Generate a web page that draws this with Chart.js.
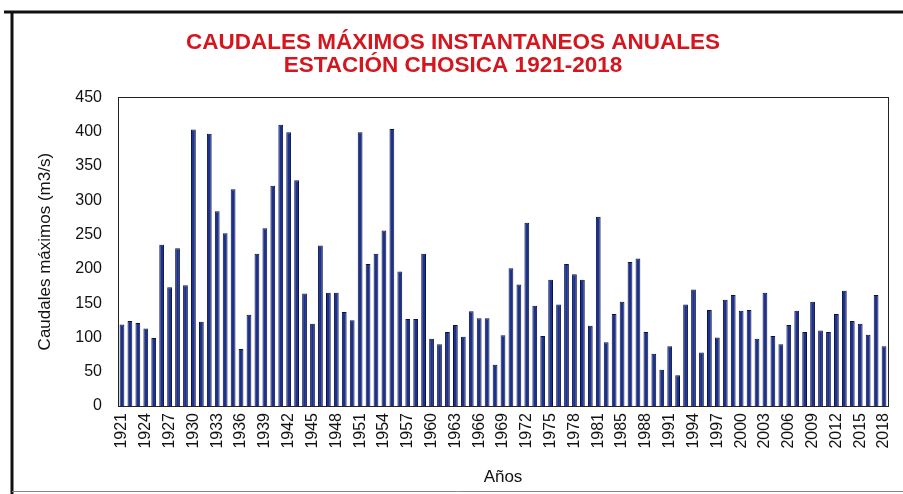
<!DOCTYPE html>
<html>
<head>
<meta charset="utf-8">
<script src="https://cdn.jsdelivr.net/npm/chart.js@4"></script>
<style>
    html, body { margin: 0; padding: 0; background: #fff; }
    #chart { display: block; }
</style>
</head>
<body>
<canvas id="chart" width="903" height="494"></canvas>
<script>
// years (1983 has no record in the series)
const years = [
    1921, 1922, 1923, 1924, 1925, 1926, 1927, 1928, 1929, 1930,
    1931, 1932, 1933, 1934, 1935, 1936, 1937, 1938, 1939, 1940,
    1941, 1942, 1943, 1944, 1945, 1946, 1947, 1948, 1949, 1950,
    1951, 1952, 1953, 1954, 1955, 1956, 1957, 1958, 1959, 1960,
    1961, 1962, 1963, 1964, 1965, 1966, 1967, 1968, 1969, 1970,
    1971, 1972, 1973, 1974, 1975, 1976, 1977, 1978, 1979, 1980,
    1981, 1982, 1984, 1985, 1986, 1987, 1988, 1989, 1990, 1991,
    1992, 1993, 1994, 1995, 1996, 1997, 1998, 1999, 2000, 2001,
    2002, 2003, 2004, 2005, 2006, 2007, 2008, 2009, 2010, 2011,
    2012, 2013, 2014, 2015, 2016, 2017, 2018
];

// caudal maximo instantaneo (m3/s)
const caudales = [
    119, 124, 121, 113, 99, 235, 173, 230, 176, 403,
    123, 397, 284, 252, 316, 83, 133, 222, 259, 321,
    410, 399, 329, 164, 120, 234, 165, 165, 137, 125,
    399, 207, 222, 256, 404, 196, 127, 127, 222, 98,
    90, 108, 118, 101, 138, 128, 128, 60, 103, 201,
    177, 267, 146, 102, 184, 148, 207, 192, 184, 117,
    276, 93, 134, 152, 210, 215, 108, 76, 53, 87,
    45, 148, 170, 78, 140, 100, 155, 162, 139, 140,
    98, 165, 102, 90, 118, 139, 108, 152, 110, 108,
    134, 168, 124, 120, 104, 162, 87
];

const yTicks = [0, 50, 100, 150, 200, 250, 300, 350, 400, 450];
const labelStep = 3;

const titleLines = ['CAUDALES MÁXIMOS INSTANTANEOS ANUALES', 'ESTACIÓN CHOSICA 1921-2018'];

// ===================== FRAMES =====================
const framePlugin = {
    id: 'frames',
    beforeDraw(chart) {
        const ctx = chart.ctx;
        ctx.save();
        ctx.fillStyle = '#fff';
        ctx.fillRect(0, 0, chart.width, chart.height);
        ctx.strokeStyle = '#111';
        ctx.lineWidth = 3;
        ctx.beginPath();
        ctx.moveTo(4, 12);
        ctx.lineTo(chart.width + 2, 12);
        ctx.moveTo(12, 12);
        ctx.lineTo(12, chart.height + 2);
        ctx.stroke();
        ctx.strokeStyle = '#888';
        ctx.lineWidth = 1;
        ctx.beginPath();
        ctx.moveTo(12, 491.5);
        ctx.lineTo(chart.width, 491.5);
        ctx.stroke();
        ctx.restore();
    },
    afterDatasetsDraw(chart) {
        const { ctx, chartArea: a } = chart;
        ctx.save();
        ctx.strokeStyle = '#222';
        ctx.lineWidth = 1;
        ctx.strokeRect(Math.round(a.left) + 0.5, Math.round(a.top) + 0.5,
            Math.round(a.right - a.left), Math.round(a.bottom - a.top));
        ctx.restore();
    }
};

const ctx = document.getElementById('chart').getContext('2d');
new Chart(ctx, {
    type: 'bar',
    data: {
        labels: years.map(String),
        datasets: [{
            data: caudales,
            backgroundColor: '#1c318c',
            borderColor: '#0a1242',
            borderWidth: 1,
            barPercentage: 0.6,
            categoryPercentage: 1.0
        }]
    },
    options: {
        responsive: false,
        animation: false,
        layout: { padding: { left: 18, right: 15, top: 0, bottom: 4 } },
        plugins: {
            legend: { display: false },
            tooltip: { enabled: false },
            title: {
                display: true,
                text: titleLines,
                color: '#d4161f',
                font: { family: '"Liberation Sans", Arial, sans-serif', size: 22.5, weight: 'bold', lineHeight: 1.03 },
                padding: { top: 31, bottom: 20 }
            }
        },
        scales: {
            x: {
                grid: { display: false, drawTicks: false },
                border: { display: false },
                ticks: {
                    autoSkip: false,
                    minRotation: 90,
                    maxRotation: 90,
                    padding: 7,
                    color: '#111',
                    font: { family: '"Liberation Sans", Arial, sans-serif', size: 16 },
                    callback: function (val, i) {
                        return i % labelStep === 0 ? this.getLabelForValue(val) : '';
                    }
                },
                title: {
                    display: true,
                    text: 'Años',
                    color: '#111',
                    font: { family: '"Liberation Sans", Arial, sans-serif', size: 17 },
                    padding: { top: 0, bottom: 2 }
                },
                afterFit: scale => {
                    scale.height = 84;
                    scale.paddingLeft = 0;
                    scale.paddingRight = 0;
                }
            },
            y: {
                min: 0,
                max: 450,
                grid: { display: false, drawTicks: false },
                border: { display: false },
                afterBuildTicks: scale => { scale.ticks = yTicks.map(v => ({ value: v })); },
                ticks: {
                    padding: 16,
                    color: '#111',
                    font: { family: '"Liberation Sans", Arial, sans-serif', size: 16 }
                },
                title: {
                    display: true,
                    text: 'Caudales máximos (m3/s)',
                    color: '#111',
                    font: { family: '"Liberation Sans", Arial, sans-serif', size: 17 },
                    padding: { top: 17, bottom: 0 }
                },
                afterFit: scale => { scale.width = 100; }
            }
        }
    },
    plugins: [framePlugin]
});
</script>
</body>
</html>
